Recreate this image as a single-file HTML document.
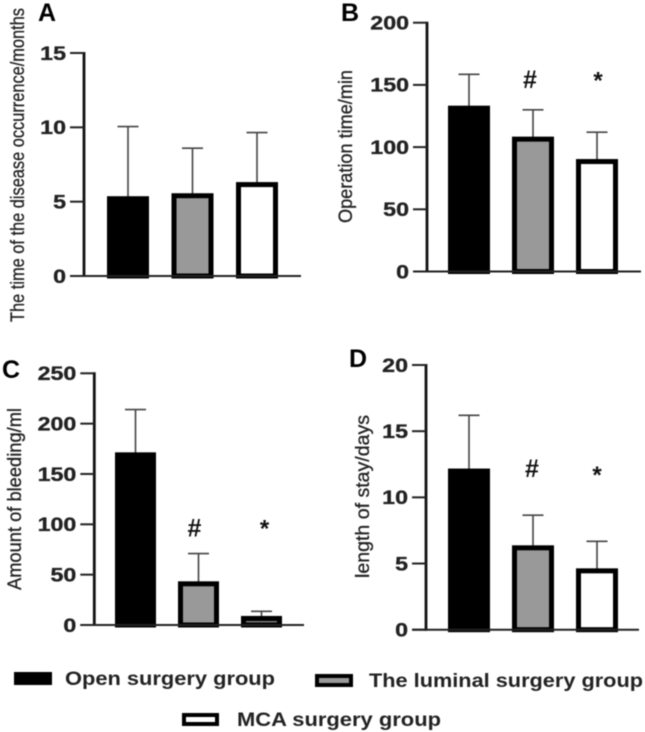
<!DOCTYPE html>
<html lang="en">
<head>
<meta charset="utf-8">
<title>Surgery group comparison charts</title>
<style>
html,body{margin:0;padding:0;background:#fff;width:645px;height:732px;overflow:hidden}
svg{display:block;filter:blur(0.5px)}
text{font-family:"Liberation Sans",Arial,sans-serif}
</style>
</head>
<body>
<svg id="figure" xmlns="http://www.w3.org/2000/svg" width="645" height="732" viewBox="0 0 645 732">
  <rect x="0" y="0" width="645" height="732" fill="#fff"></rect>
  <g>
    <g>
      <rect x="14" y="672" width="38" height="13" fill="#000"></rect>
      <text x="65" y="685" font-size="19" font-weight="bold" fill="#222" textLength="210" lengthAdjust="spacingAndGlyphs">Open surgery group</text>
    </g>
    <g>
      <rect x="317" y="676" width="34" height="9" fill="#999" stroke="#000" stroke-width="4"></rect>
      <text x="369" y="687" font-size="19" font-weight="bold" fill="#222" textLength="274" lengthAdjust="spacingAndGlyphs">The luminal surgery group</text>
    </g>
    <g>
      <rect x="184" y="715" width="33" height="9" fill="#fff" stroke="#000" stroke-width="4"></rect>
      <text x="237" y="726" font-size="19" font-weight="bold" fill="#222" textLength="204" lengthAdjust="spacingAndGlyphs">MCA surgery group</text>
    </g>
  </g>
</svg>
<script>
// Panel A: time of the disease occurrence (months)
const panelAValues = [5.3, 5.5, 6.25];
const panelAErrorTops = [10.05, 8.6, 9.65];
const panelATicks = [0, 5, 10, 15];
// Panel B: operation time (min)
const panelBValues = [132.5, 107.6, 89.6];
const panelBErrorTops = [158.5, 130, 112];
const panelBTicks = [0, 50, 100, 150, 200];
const panelBMarkers = ["", "#", "*"];
const panelBMarkerLevels = [0, 154.7, 156];
// Panel C: amount of bleeding (ml)
const panelCValues = [170.5, 42.4, 8];
const panelCErrorTops = [214, 71, 13.6];
const panelCTicks = [0, 50, 100, 150, 200, 250];
const panelCMarkers = ["", "#", "*"];
const panelCMarkerLevels = [0, 97, 99];
// Panel D: length of stay (days)
const panelDValues = [12.1, 6.3, 4.56];
const panelDErrorTops = [16.2, 8.65, 6.68];
const panelDTicks = [0, 5, 10, 15, 20];
const panelDMarkers = ["", "#", "*"];
const panelDMarkerLevels = [0, 12.2, 11.9];
const groupNames = ["open", "luminal", "mca"];

const NS = "http://www.w3.org/2000/svg";
const fig = document.getElementById("figure");
const fills = ["#000", "#999", "#fff"];

function make(tag, attrs, parent, content) {
  const el = document.createElementNS(NS, tag);
  Object.keys(attrs).forEach(function (k) { el.setAttribute(k, attrs[k]); });
  if (content !== undefined) el.textContent = content;
  parent.appendChild(el);
  return el;
}

function drawPanel(p) {
  const g = make("g", {}, fig);
  
  
  const maxTick = p.ticks[p.ticks.length - 1];
  const yScale = function (v) { return p.y0 - (v / maxTick) * (p.y0 - p.yTop); };
  const xScale = function (i) { return p.barStart + i * p.barStep; };

  const letter = make("text", { x: p.letterX, y: p.letterY, "font-size": 25, "font-weight": "bold", fill: "#000" }, g, p.id.toUpperCase());
  
  

  const midY = (p.titleTop + p.titleBottom) / 2;
  const title = make("text", {
    x: 0, y: 0, "font-size": 19, fill: "#222", stroke: "#222", "stroke-width": 0.3, "text-anchor": "middle",
    textLength: p.titleBottom - p.titleTop, lengthAdjust: "spacingAndGlyphs",
    transform: "translate(" + p.titleX + "," + midY + ") rotate(-90)"
  }, g, p.title);
  
  

  p.values.forEach(function (v, i) {
    const cx = xScale(i) + p.barWidth / 2;
    const err = make("line", { x1: cx, x2: cx, y1: yScale(p.errors[i]), y2: yScale(v), stroke: "#444", "stroke-width": 1.6 }, g);
    
    
    const cap = make("line", { x1: cx - 10.5, x2: cx + 10.5, y1: yScale(p.errors[i]), y2: yScale(p.errors[i]), stroke: "#444", "stroke-width": 1.6 }, g);
    
    
    const sw = 5;
    const fill = (p.id === "c" && i === 2) ? "#777" : fills[i];
    const bar = make("rect", {
      x: xScale(i) + sw / 2, y: yScale(v) + sw / 2 - 1,
      width: p.barWidth - sw, height: Math.max(0, p.y0 - yScale(v) - sw / 2 + 1),
      fill: fill, stroke: "#000", "stroke-width": sw
    }, g);
    
    
    if (p.markers && p.markers[i]) {
      const isHash = p.markers[i] === "#";
      const m = make("text", {
        x: cx + p.markerShift[i], y: yScale(p.markerLevels[i]) + (isHash ? 9 : 11),
        "font-size": isHash ? 25 : 24, "font-weight": "bold", fill: "#111", "text-anchor": "middle"
      }, g, p.markers[i]);
      
      
    }
  });

  const yAxis = make("line", { x1: p.axisX, x2: p.axisX, y1: p.yTop - 1, y2: p.y0 + 1, stroke: "#111", "stroke-width": 2.8 }, g);
  
  
  const xAxis = make("line", { x1: p.axisX - 14, x2: p.xEnd, y1: p.y0, y2: p.y0, stroke: "#222", "stroke-width": 2 }, g);
  
  

  p.ticks.forEach(function (t) {
    const y = yScale(t);
    const tick = make("line", { x1: p.axisX - 14, x2: p.axisX, y1: y, y2: y, stroke: "#222", "stroke-width": 2 }, g);
    
    
    const s = String(t);
    const len = s.length * 12.9;
    const label = make("text", {
      x: p.axisX - 18 - len, y: y + 6.8, "font-size": 19, "font-weight": "bold", fill: "#222", stroke: "#222", "stroke-width": 0.35,
      textLength: len, lengthAdjust: "spacingAndGlyphs"
    }, g, s);
    
    
  });
}

drawPanel({ id: "a", title: "The time of the disease occurrence/months", values: panelAValues, errors: panelAErrorTops, ticks: panelATicks,
  axisX: 84, y0: 276, yTop: 53, xEnd: 301, barStart: 107, barStep: 64.5, barWidth: 42,
  letterX: 38, letterY: 21, titleX: 24, titleTop: 8, titleBottom: 322 });
drawPanel({ id: "b", title: "Operation time/min", values: panelBValues, errors: panelBErrorTops, ticks: panelBTicks,
  markers: panelBMarkers, markerLevels: panelBMarkerLevels, markerShift: [0, -3, 1],
  axisX: 427, y0: 271.5, yTop: 22.7, xEnd: 641, barStart: 448, barStep: 64, barWidth: 42,
  letterX: 341, letterY: 21, titleX: 352, titleTop: 70, titleBottom: 223 });
drawPanel({ id: "c", title: "Amount of bleeding/ml", values: panelCValues, errors: panelCErrorTops, ticks: panelCTicks,
  markers: panelCMarkers, markerLevels: panelCMarkerLevels, markerShift: [0, -4, 3],
  axisX: 94.3, y0: 625, yTop: 373.3, xEnd: 304, barStart: 115, barStep: 63, barWidth: 41,
  letterX: 2, letterY: 378, titleX: 21, titleTop: 408, titleBottom: 590 });
drawPanel({ id: "d", title: "length of stay/days", values: panelDValues, errors: panelDErrorTops, ticks: panelDTicks,
  markers: panelDMarkers, markerLevels: panelDMarkerLevels, markerShift: [0, -1, 0],
  axisX: 426, y0: 629.7, yTop: 365, xEnd: 639, barStart: 448, barStep: 64, barWidth: 42,
  letterX: 349, letterY: 367, titleX: 369, titleTop: 415, titleBottom: 578 });
</script>
</body>
</html>
